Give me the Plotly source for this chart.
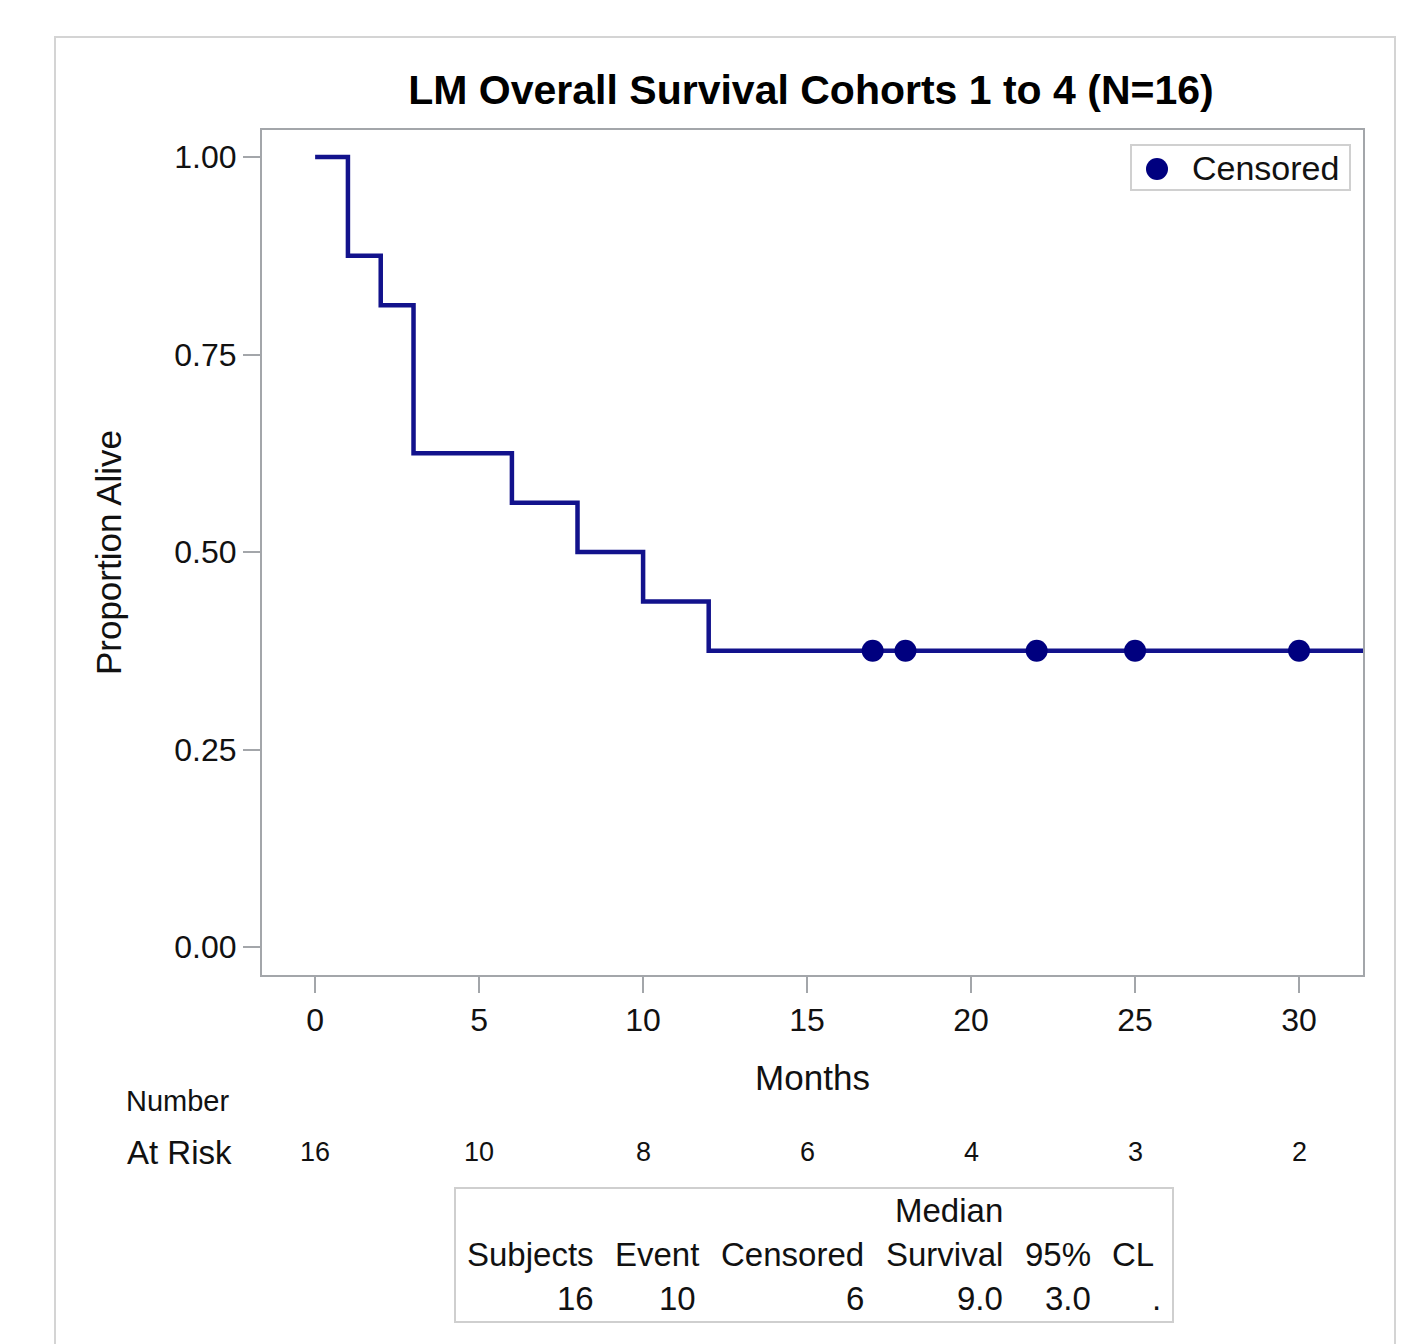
import plotly.graph_objects as go

# ---------------- data ----------------
times = [0, 1, 2, 3, 6, 8, 10, 12, 32]
survival = [1.0, 0.875, 0.8125, 0.625, 0.5625, 0.5, 0.4375, 0.375, 0.375]
censor_times = [17, 18, 22, 25, 30]
censor_surv = [0.375, 0.375, 0.375, 0.375, 0.375]
risk_times = [0, 5, 10, 15, 20, 25, 30]
at_risk = [16, 10, 8, 6, 4, 3, 2]
y_ticks = [0, 0.25, 0.5, 0.75, 1.0]
x_ticks = [0, 5, 10, 15, 20, 25, 30]
table_headers = ["Subjects", "Event", "Censored", "Survival", "95%", "CL"]
table_values = ["16", "10", "6", "9.0", "3.0", "."]

# ---------------- layout helpers ----------------
W, H = 1421, 1344
FONT = "Liberation Sans, Arial, sans-serif"
LINE = "#12128c"
MARK = "#00007f"
FRAME = "#a3a6aa"
TXT = "#111111"


def px(x):
    return x / W


def py(y):
    return 1 - y / H


def label(text, x, y, size, xanchor="center", xref="paper"):
    return dict(text=text, x=x, y=py(y), xref=xref, yref="paper", xanchor=xanchor,
                yanchor="middle", showarrow=False, font=dict(size=size, color=TXT))


fig = go.Figure()
fig.add_trace(go.Scatter(
    x=times, y=survival, mode="lines", line=dict(shape="hv", color=LINE, width=4.5),
    showlegend=False, hoverinfo="skip"))
fig.add_trace(go.Scatter(
    x=censor_times, y=censor_surv, mode="markers", name="Censored", showlegend=False,
    marker=dict(symbol="circle", size=22, color=MARK)))

annotations = []
# legend (drawn to match the compact boxed legend)
annotations.append(label("Censored", px(1190), 168, 34, xanchor="left"))
# number at risk
annotations.append(label("Number", px(178), 1101, 29))
annotations.append(label("At Risk", px(179), 1152, 33))
for t, n in zip(risk_times, at_risk):
    annotations.append(label(str(n), t, 1152, 27, xref="x"))

# summary table
col_right = [596, 701, 866, 1005, 1093, 1156]
val_right = [596, 698, 866, 1005, 1093, 1163]
annotations.append(label("Median", px(949), 1210, 33))
for h, xr in zip(table_headers, col_right):
    annotations.append(label(h, px(xr), 1254, 33, xanchor="right"))
for v, xr in zip(table_values, val_right):
    annotations.append(label(v, px(xr), 1298, 33, xanchor="right"))

shapes = [
    # outer frame
    dict(type="rect", xref="paper", yref="paper", x0=px(55), x1=px(1395), y0=py(37), y1=py(1360),
         line=dict(color="#d4d4d4", width=2), layer="below"),
    # table box
    dict(type="rect", xref="paper", yref="paper", x0=px(455), x1=px(1173), y0=py(1188), y1=py(1322),
         line=dict(color="#cfcfcf", width=2), layer="below"),
    # legend box
    dict(type="rect", xref="paper", yref="paper", x0=px(1131), x1=px(1350), y0=py(145), y1=py(190),
         line=dict(color="#d0d0d0", width=2), fillcolor="white", layer="above"),
    # legend marker
    dict(type="circle", xref="paper", yref="paper", x0=px(1146), x1=px(1168), y0=py(158), y1=py(180),
         line=dict(width=0), fillcolor=MARK, layer="above"),
]

fig.update_layout(
    width=W, height=H,
    margin=dict(l=0, r=0, t=0, b=0),
    paper_bgcolor="white", plot_bgcolor="white",
    font=dict(family=FONT, color=TXT),
    showlegend=False,
    title=dict(text="<b>LM Overall Survival Cohorts 1 to 4 (N=16)</b>", x=px(811), y=py(90),
               xanchor="center", yanchor="middle", font=dict(size=41, color="#000")),
    xaxis=dict(domain=[px(262), px(1363)], range=[-1.62, 31.95], tickvals=x_ticks,
               ticks="outside", ticklen=16, tickwidth=2, tickcolor=FRAME,
               showline=True, linecolor=FRAME, linewidth=2, mirror=True,
               showgrid=False, zeroline=False, automargin=False,
               tickfont=dict(size=32, color=TXT),
               title=dict(text="Months", font=dict(size=35, color=TXT), standoff=28)),
    yaxis=dict(domain=[py(975), py(130)], range=[-0.0354, 1.0342], tickvals=y_ticks,
               tickformat=".2f", ticks="outside", ticklen=17, tickwidth=2, tickcolor=FRAME,
               showline=True, linecolor=FRAME, linewidth=2, mirror=True,
               showgrid=False, zeroline=False, automargin=False,
               tickfont=dict(size=32, color=TXT),
               title=dict(text="Proportion Alive", font=dict(size=35, color=TXT), standoff=42)),
    annotations=annotations,
    shapes=shapes,
)

fig.write_html("out.html")
